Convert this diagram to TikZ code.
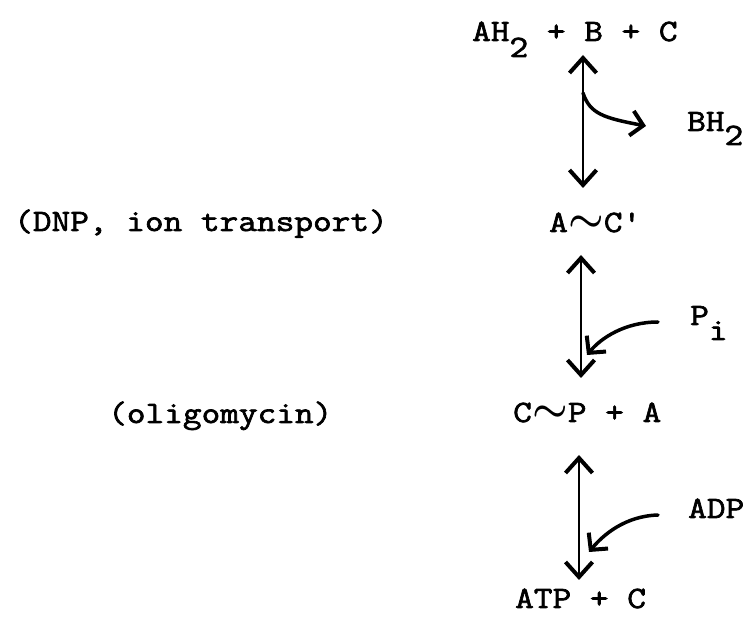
\documentclass[tikz,border=0pt]{standalone}
\usepackage{amsmath}
\usepackage{fontspec}
\setmonofont{Latin Modern Mono}[FakeStretch=1.17,FakeBold=2.2]
\usetikzlibrary{arrows.meta}
\tikzset{
  lbl/.style={anchor=base west, inner sep=0pt, font=\ttfamily\fontsize{31}{33}\selectfont},
  rxn/.style={line width=2pt, {Straight Barb[length=15pt,width=27pt,line width=4pt]}-{Straight Barb[length=15pt,width=27pt,line width=4pt]}},
  side/.style={line width=3.5pt, line cap=round, -{Straight Barb[length=12pt,width=25pt,line width=4pt]}}
}
\newcommand{\tld}{\makebox[36pt]{\scalebox{1.6}{$\boldsymbol{\sim}$}}}
\begin{document}
\begin{tikzpicture}[x=1pt,y=-1pt]
\useasboundingbox (0,0) rectangle (748,617);
% species
\node[lbl] (top) at (472,41) {AH\raisebox{-16pt}{2} + B + C};
\node[lbl] (bh)  at (687,131) {BH\raisebox{-14pt}{2}};
\node[lbl] (ac)  at (549,232) {A\tld C'};
\node[lbl] (pi)  at (690,325) {P\raisebox{-15pt}{i}};
\node[lbl] (cp)  at (513,422) {C\tld P + A};
\node[lbl] (adp) at (688,518) {ADP};
\node[lbl] (atp) at (515,608) {ATP + C};
\node[lbl] (dnp) at (14,231) {(DNP, ion transport)};
\node[lbl] (oli) at (108,423) {(oligomycin)};
% arrow ends
\coordinate (t1) at (583,55);  \coordinate (b1) at (583,188);
\coordinate (t2) at (581,255); \coordinate (b2) at (581,378);
\coordinate (t3) at (579,455); \coordinate (b3) at (579,580);
\coordinate (j1) at (583,93);  \coordinate (e1) at (646,126);
\coordinate (s2) at (658,322); \coordinate (e2) at (587,355);
\coordinate (s3) at (658,515); \coordinate (e3) at (589,552);
% reactions
\draw[rxn] (t1) -- (b1);
\draw[rxn] (t2) -- (b2);
\draw[rxn] (t3) -- (b3);
\draw[side] (j1) .. controls (590,114) and (604,118) .. (e1);
\draw[side] (s2) .. controls (625,322) and (601,338) .. (e2);
\draw[side] (s3) .. controls (625,516) and (603,535) .. (e3);
\end{tikzpicture}
\end{document}
